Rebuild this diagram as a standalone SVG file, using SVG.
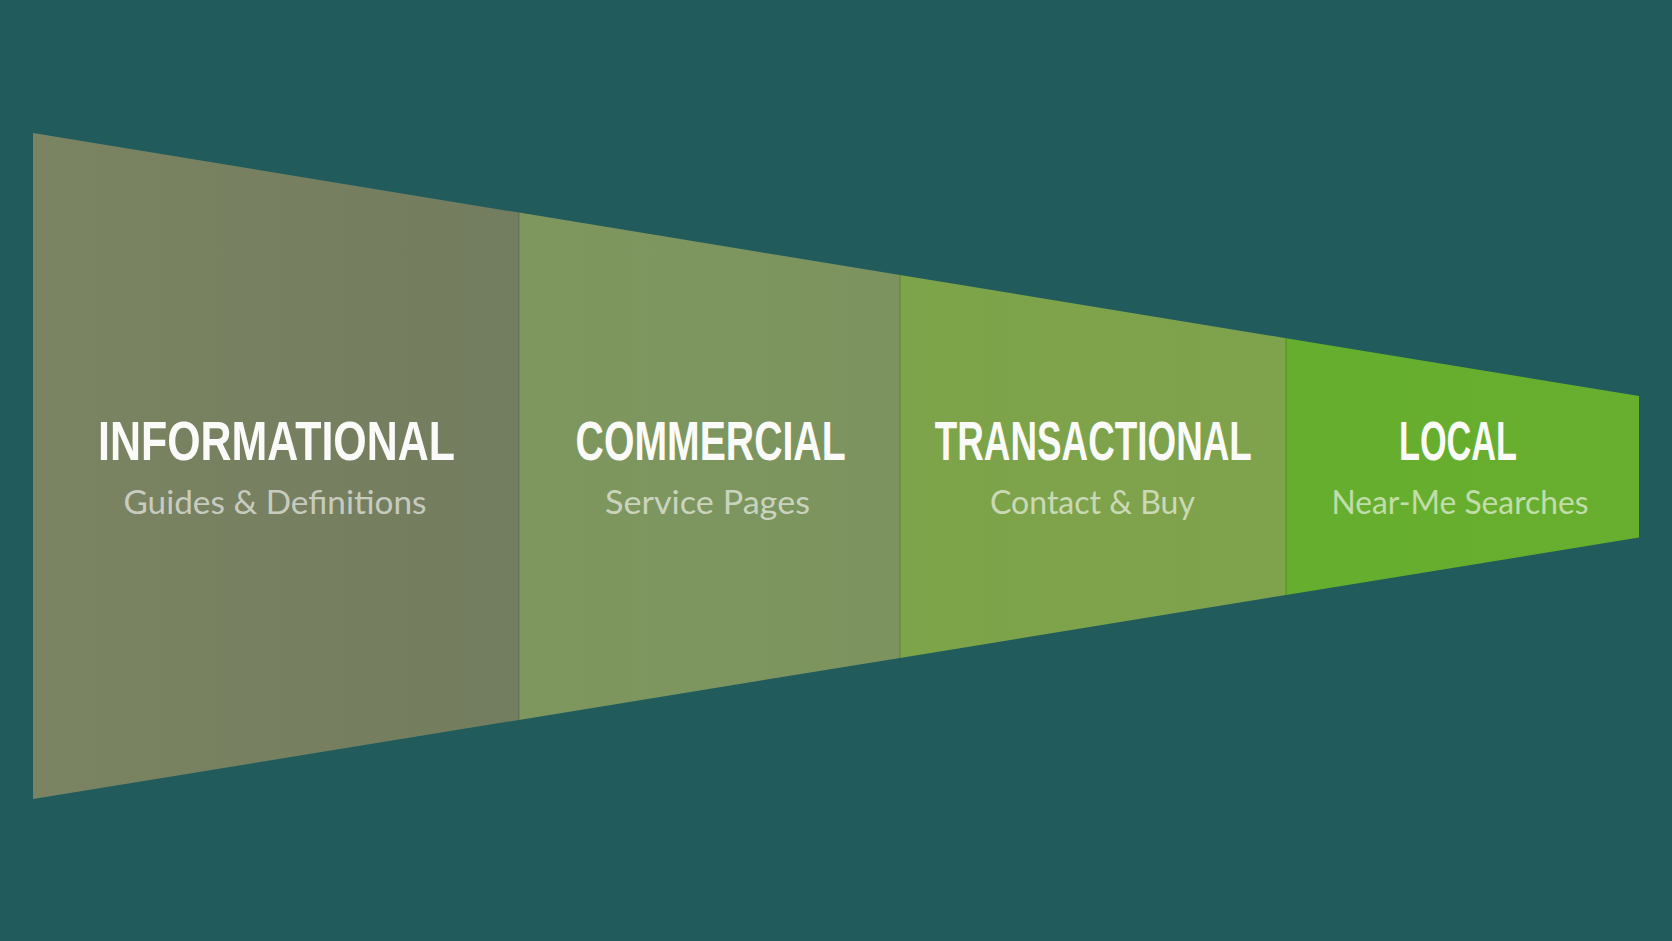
<svg xmlns="http://www.w3.org/2000/svg" width="1672" height="941" viewBox="0 0 1672 941">
  <defs>
    <linearGradient id="g1" x1="0" y1="0" x2="1" y2="0">
      <stop offset="0" stop-color="#7A8462"/>
      <stop offset="1" stop-color="#737D5F"/>
    </linearGradient>
    <linearGradient id="g2" x1="0" y1="0" x2="1" y2="0">
      <stop offset="0" stop-color="#7E975E"/>
      <stop offset="1" stop-color="#7C935F"/>
    </linearGradient>
    <linearGradient id="g3" x1="0" y1="0" x2="1" y2="0">
      <stop offset="0" stop-color="#7DA449"/>
      <stop offset="1" stop-color="#7FA24D"/>
    </linearGradient>
    <linearGradient id="g4" x1="0" y1="0" x2="1" y2="0">
      <stop offset="0" stop-color="#66AE2D"/>
      <stop offset="1" stop-color="#68AE2F"/>
    </linearGradient>
  </defs>
  <style>
    .title { font-family: "Liberation Sans", "DejaVu Sans", Arial, sans-serif; font-weight: bold; font-size: 56px; fill: #FAFAF8; text-anchor: middle; }
    .sub { font-family: Lato, "Open Sans", "Liberation Sans", sans-serif; font-size: 32px; fill: #FFFFFF; fill-opacity: 0.6; text-anchor: middle; }
    .div { stroke: #000000; stroke-opacity: 0.13; stroke-width: 1.5; }
  </style>
  <rect x="0" y="0" width="1672" height="941" fill="#215B5C"/>

  <g id="seg-informational">
    <polygon points="33,133 519,212.6 519,719.9 33,799" fill="url(#g1)"/>
    <text class="title" x="276.5" y="460" textLength="357" lengthAdjust="spacingAndGlyphs">INFORMATIONAL</text>
    <text class="sub" x="275" y="514" textLength="303" lengthAdjust="spacingAndGlyphs">Guides &amp; Definitions</text>
  </g>

  <g id="seg-commercial">
    <polygon points="519,212.6 900,275 900,657.9 519,719.9" fill="url(#g2)"/>
    <text class="title" x="710.6" y="460" textLength="270" lengthAdjust="spacingAndGlyphs">COMMERCIAL</text>
    <text class="sub" x="707.5" y="514" textLength="205" lengthAdjust="spacingAndGlyphs">Service Pages</text>
  </g>

  <g id="seg-transactional">
    <polygon points="900,275 1286,338.2 1286,595 900,657.9" fill="url(#g3)"/>
    <text class="title" x="1093.3" y="460" textLength="317" lengthAdjust="spacingAndGlyphs">TRANSACTIONAL</text>
    <text class="sub" x="1092.5" y="514" textLength="205" lengthAdjust="spacingAndGlyphs">Contact &amp; Buy</text>
  </g>

  <g id="seg-local">
    <polygon points="1286,338.2 1639,396 1639,537.5 1286,595" fill="url(#g4)"/>
    <text class="title" x="1458" y="460" textLength="118" lengthAdjust="spacingAndGlyphs">LOCAL</text>
    <text class="sub" x="1460" y="514" textLength="257" lengthAdjust="spacingAndGlyphs">Near-Me Searches</text>
  </g>

  <g id="dividers">
    <line class="div" x1="519" y1="212.6" x2="519" y2="719.9"/>
    <line class="div" x1="900" y1="275" x2="900" y2="657.9"/>
    <line class="div" x1="1286" y1="338.2" x2="1286" y2="595"/>
  </g>
</svg>
